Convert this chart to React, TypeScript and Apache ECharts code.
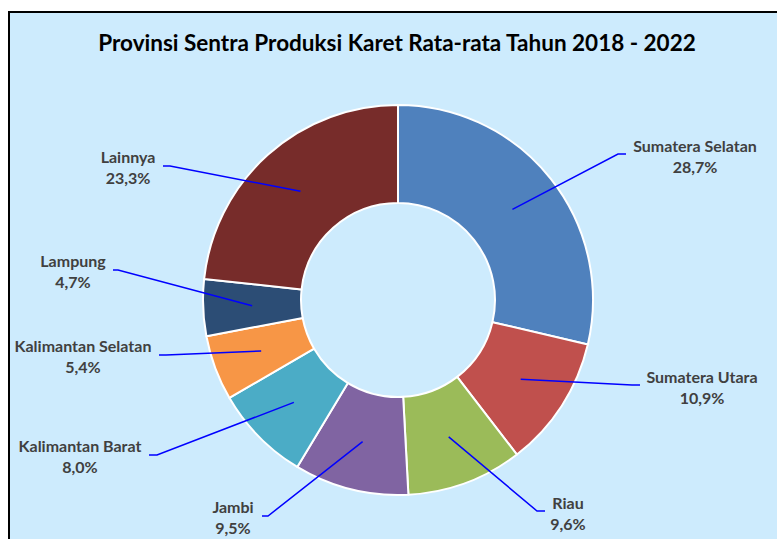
import React, { useEffect, useRef } from "react";
import * as echarts from "echarts";

const categories = [
  "Sumatera Selatan",
  "Sumatera Utara",
  "Riau",
  "Jambi",
  "Kalimantan Barat",
  "Kalimantan Selatan",
  "Lampung",
  "Lainnya",
];
const shares = [28.7, 10.9, 9.6, 9.5, 8.0, 5.4, 4.7, 23.3];
const colors = ["#4F81BD", "#C0504D", "#9BBB59", "#8064A2", "#4BACC6", "#F79646", "#2C4D75", "#772C2A"];
const titleText = "Provinsi Sentra Produksi Karet Rata-rata Tahun 2018 - 2022";

// layout (pixels)
const CENTER = [398, 300];
const R_IN = 97;
const R_OUT = 195;
const R_MID = 146;
const labelPos = [
  [695, 156],
  [702, 387],
  [568, 513],
  [233, 517],
  [80, 456],
  [83, 356],
  [73, 271],
  [128, 167],
];
const elbows = [
  [618, 154],
  [632, 385],
  [537, 511],
  [268, 516],
  [157, 455],
  [166, 355],
  [118, 270],
  [170, 166],
];
const ends = [
  [626, 154],
  [640, 385],
  [545, 511],
  [262, 516],
  [149, 455],
  [159, 355],
  [113, 270],
  [163, 166],
];

const FONT = "Lato, 'Open Sans', sans-serif";

export default function App() {
  const ref = useRef<HTMLDivElement>(null);
  useEffect(() => {
    if (!ref.current) return;
    const chart = echarts.init(ref.current, null, { renderer: "svg" });
    const total = shares.reduce((a, b) => a + b, 0);
    let cum = 0;
    const starts = shares.map((v) => {
      const mid = (cum + v / 2) / total;
      cum += v;
      const ang = mid * Math.PI * 2;
      return [CENTER[0] + R_MID * Math.sin(ang), CENTER[1] - R_MID * Math.cos(ang)];
    });
    const data = categories.map((name, i) => ({
      name,
      value: shares[i],
      itemStyle: { color: colors[i] },
    }));
    chart.setOption({
      animation: false,
      backgroundColor: "transparent",
      graphic: [
        {
          type: "text",
          x: 397,
          y: 42,
          style: {
            text: titleText,
            align: "center",
            verticalAlign: "middle",
            fill: "#000000",
            font: `bold 22.5px ${FONT}`,
          },
        },
      ],
      series: [
        {
          type: "pie",
          z: 2,
          center: CENTER,
          radius: [R_IN, R_OUT],
          startAngle: 90,
          clockwise: true,
          avoidLabelOverlap: false,
          itemStyle: { borderColor: "#ffffff", borderWidth: 2 },
          label: { show: false },
          labelLine: { show: false },
          emphasis: { disabled: true },
          data,
        },
        {
          type: "pie",
          z: 5,
          silent: true,
          center: CENTER,
          radius: [R_IN, R_OUT],
          startAngle: 90,
          clockwise: true,
          avoidLabelOverlap: false,
          itemStyle: { color: "rgba(0,0,0,0)", borderWidth: 0 },
          label: {
            show: true,
            position: "outside",
            formatter: (p: any) => `${p.name}\n${Number(p.value).toFixed(1).replace(".", ",")}%`,
            color: "#404040",
            fontFamily: FONT,
            fontWeight: "bold",
            fontSize: 16,
            lineHeight: 21,
            align: "center",
          },
          labelLine: {
            show: true,
            smooth: false,
            lineStyle: { color: "#0000FF", width: 1.5 },
          },
          labelLayout: (params: any) => {
            const i = params.dataIndex;
            return {
              x: labelPos[i][0],
              y: labelPos[i][1],
              align: "center",
              verticalAlign: "middle",
              labelLinePoints: [starts[i], elbows[i], ends[i]],
            };
          },
          emphasis: { disabled: true },
          data: categories.map((name, i) => ({ name, value: shares[i] })),
        },
      ],
    });
    return () => chart.dispose();
  }, []);

  return (
    <div style={{ position: "fixed", left: 0, top: 0, width: 777, height: 539, overflow: "hidden", background: "#ffffff" }}>
      <div
        style={{
          position: "absolute",
          left: 8,
          top: 11,
          width: 820,
          height: 600,
          background: "#CDEBFD",
          borderLeft: "2px solid #000",
          borderTop: "2px solid #000",
        }}
      />
      <div ref={ref} style={{ position: "absolute", left: 0, top: 0, width: 777, height: 539 }} />
    </div>
  );
}
